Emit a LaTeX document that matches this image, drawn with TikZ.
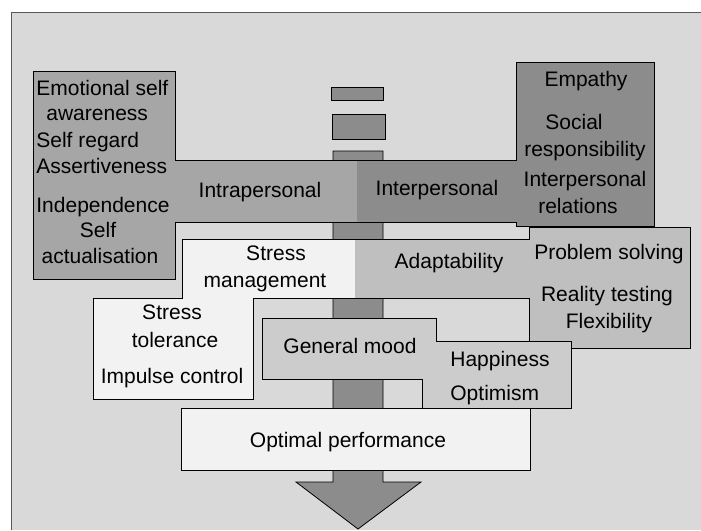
\documentclass[tikz,border=0pt]{standalone}
\usepackage{fontspec}
\setmainfont{Liberation Sans}
\begin{document}
\begin{tikzpicture}[x=1pt, y=-1pt, line width=0.8pt,
        label_text/.style={inner sep=0pt, anchor=base, font=\fontsize{21}{25}\selectfont},
        label_left/.style={label_text, anchor=base west}]

    \colorlet{frame_bg}{black!15}
    \colorlet{stem_fill}{black!45}
    \colorlet{intra_fill}{black!35}
    \colorlet{inter_fill}{black!45}
    \colorlet{stress_fill}{black!5}
    \colorlet{adapt_fill}{black!25}
    \colorlet{mood_fill}{black!20}
    \colorlet{perf_fill}{black!5}

    \useasboundingbox (0,0) rectangle (701,530);
    \fill[white] (0,0) rectangle (701,530);
    \fill[frame_bg] (11,12) rectangle (701,530);
    \draw[black!65] (11,530) -- (11,12) -- (701,12);

    \draw[fill=stem_fill] (333,151) -- (383,151) -- (383,482) -- (421,482) -- (358,529) -- (296,482) -- (333,482) -- cycle;
    \draw[fill=stem_fill] (331,87) rectangle (383,100);
    \draw[fill=stem_fill] (332,114) rectangle (385,139);

    \fill[intra_fill] (33,71) -- (175,71) -- (175,160) -- (357,160) -- (357,222) -- (175,222) -- (175,279) -- (33,279) -- cycle;
    \draw (357,160) -- (175,160) -- (175,71) -- (33,71) -- (33,279) -- (175,279) -- (175,222) -- (357,222);

    \fill[inter_fill] (357,160) -- (516,160) -- (516,62) -- (654,62) -- (654,226) -- (516,226) -- (516,222) -- (357,222) -- cycle;
    \draw (357,160) -- (516,160) -- (516,62) -- (654,62) -- (654,226) -- (516,226) -- (516,222) -- (357,222);

    \fill[stress_fill] (182,239) -- (355,239) -- (355,298) -- (253,298) -- (253,399) -- (93,399) -- (93,298) -- (182,298) -- cycle;
    \draw (355,239) -- (182,239) -- (182,298) -- (93,298) -- (93,399) -- (253,399) -- (253,298) -- (355,298);

    \fill[adapt_fill] (355,239) -- (529,239) -- (529,227) -- (690,227) -- (690,348) -- (529,348) -- (529,298) -- (355,298) -- cycle;
    \draw (355,239) -- (529,239) -- (529,227) -- (690,227) -- (690,348) -- (529,348) -- (529,298) -- (355,298);

    \draw[fill=mood_fill] (262,318) -- (436,318) -- (436,341) -- (571,341) -- (571,408) -- (422,408) -- (422,379) -- (262,379) -- cycle;

    \draw[fill=perf_fill] (181,408) rectangle (530,470);

    \node[label_left] (emotional) at (36,95) {Emotional self};
    \node[label_left] (awareness) at (46,120) {awareness};
    \node[label_left] (selfregard) at (36,147) {Self regard};
    \node[label_left] (assertive) at (36,173) {Assertiveness};
    \node[label_left] (independence) at (36,212) {Independence};
    \node[label_text] (self) at (98,237) {Self};
    \node[label_text] (actualisation) at (100,263) {actualisation};
    \node[label_text] (intra) at (260,197) {Intrapersonal};

    \node[label_text] (inter) at (437,195) {Interpersonal};
    \node[label_text] (empathy) at (586,86) {Empathy};
    \node[label_text] (social) at (574,129) {Social};
    \node[label_text] (responsibility) at (585,156) {responsibility};
    \node[label_text] (interpersonal) at (585,186) {Interpersonal};
    \node[label_text] (relations) at (578,213) {relations};

    \node[label_text] (stress) at (276,260) {Stress};
    \node[label_text] (management) at (265,287) {management};
    \node[label_text] (tolstress) at (172,319) {Stress};
    \node[label_text] (tolerance) at (175,347) {tolerance};
    \node[label_text] (impulse) at (172,383) {Impulse control};

    \node[label_text] (adapt) at (449,268) {Adaptability};
    \node[label_text] (problem) at (609,259) {Problem solving};
    \node[label_text] (reality) at (607,301) {Reality testing};
    \node[label_text] (flexibility) at (609,328) {Flexibility};

    \node[label_text] (mood) at (350,353) {General mood};
    \node[label_text] (happiness) at (500,366) {Happiness};
    \node[label_left] (optimism) at (450,400) {Optimism};

    \node[label_text] (perf) at (348,447) {Optimal performance};
\end{tikzpicture}
\end{document}
